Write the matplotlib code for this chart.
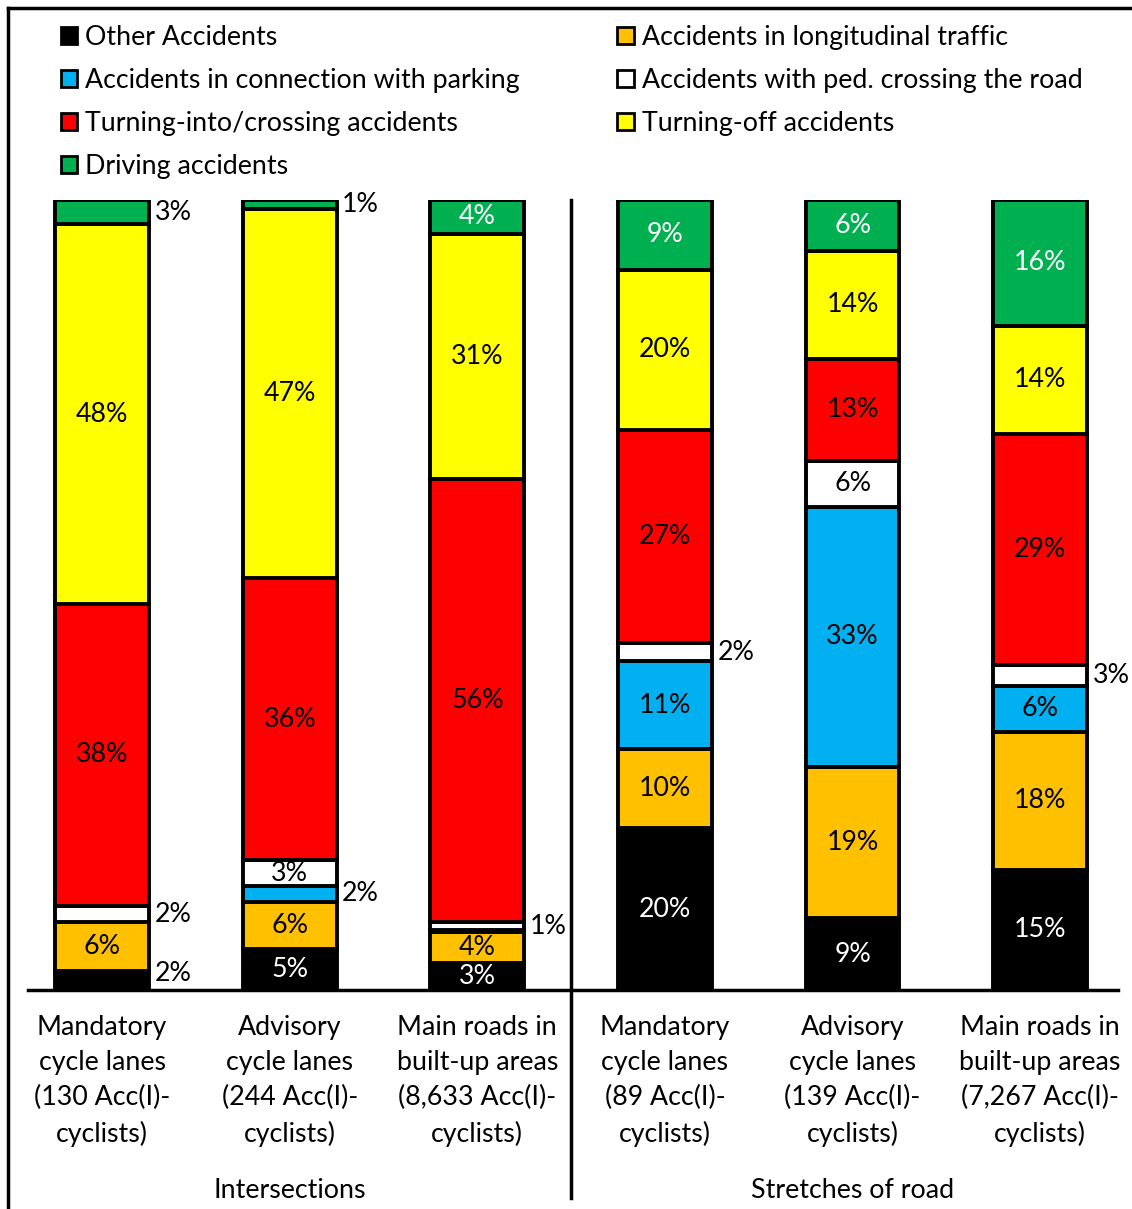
import matplotlib
matplotlib.use("Agg")
import matplotlib.pyplot as plt
from matplotlib.patches import Patch
from matplotlib.lines import Line2D
import numpy as np

plt.rcParams['font.family'] = ['Lato', 'DejaVu Sans']

categories = [
    "Mandatory\ncycle lanes\n(130 Acc(I)-\ncyclists)",
    "Advisory\ncycle lanes\n(244 Acc(I)-\ncyclists)",
    "Main roads in\nbuilt-up areas\n(8,633 Acc(I)-\ncyclists)",
    "Mandatory\ncycle lanes\n(89 Acc(I)-\ncyclists)",
    "Advisory\ncycle lanes\n(139 Acc(I)-\ncyclists)",
    "Main roads in\nbuilt-up areas\n(7,267 Acc(I)-\ncyclists)",
]
groups = ["Intersections", "Stretches of road"]

series_names = [
    "Other Accidents",
    "Accidents in longitudinal traffic",
    "Accidents in connection with parking",
    "Accidents with ped. crossing the road",
    "Turning-into/crossing accidents",
    "Turning-off accidents",
    "Driving accidents",
]
other        = [2.4, 5.2, 3.4, 20.5, 9.1, 15.2]
longitudinal = [6.2, 6.0, 3.9, 10.0, 19.1, 17.5]
parking      = [0.0, 2.0, 0.3, 11.1, 33.0, 5.8]
pedestrian   = [2.0, 3.2, 1.0, 2.3, 5.8, 2.7]
turning_into = [38.3, 35.8, 56.1, 27.0, 12.9, 29.2]
turning_off  = [48.0, 46.6, 31.0, 20.3, 13.7, 13.7]
driving      = [3.1, 1.2, 4.3, 8.8, 6.4, 15.9]
series = [other, longitudinal, parking, pedestrian, turning_into, turning_off, driving]

colors = ["#000000", "#FFC000", "#00B0F0", "#FFFFFF", "#FF0000", "#FFFF00", "#00B050"]
text_colors = ["white", "black", "black", "black", "black", "black", "white"]

W, H = 1132, 1209
fig = plt.figure(figsize=(W / 100, H / 100), dpi=100)
ax = fig.add_axes([28 / W, 1 - 990 / H, (1118 - 28) / W, (990 - 200) / H])

x = np.arange(len(categories))
bw = 0.5
bottom = np.zeros(len(categories))
fs = 19.3
for s, (vals, col, tcol) in enumerate(zip(series, colors, text_colors)):
    vals = np.array(vals, dtype=float)
    ax.bar(x, vals, bw, bottom=bottom, color=col, edgecolor="black", linewidth=2.8, zorder=2)
    for i, v in enumerate(vals):
        if v < 0.5:
            continue
        yc = bottom[i] + v / 2
        lab = f"{v:.0f}%"
        if v < 3.15:
            ax.text(x[i] + bw / 2 + 0.03, max(yc, 2.1), lab, ha="left", va="center", fontsize=fs, color="black")
        else:
            ax.text(x[i], yc, lab, ha="center", va="center", fontsize=fs, color=tcol)
    bottom += vals

ax.set_xlim(-0.395, 5.415)
ax.set_ylim(0, 100)
for sp in ["top", "right", "left"]:
    ax.spines[sp].set_visible(False)
ax.spines["bottom"].set_linewidth(2.5)
ax.set_yticks([])
ax.set_xticks(x)
ax.set_xticklabels(categories, fontsize=fs, linespacing=1.5)
ax.tick_params(axis="x", length=0, pad=18)

# group labels
ax.text(1, -25.4, groups[0], ha="center", va="center", fontsize=fs, clip_on=False)
ax.text(4, -25.4, groups[1], ha="center", va="center", fontsize=fs, clip_on=False)

# separator
ax.add_line(Line2D([2.5, 2.5], [100, -26.3], color="black", linewidth=2.5, clip_on=False))

# figure border (top, left)
fig.add_artist(Line2D([8 / W, 1.0], [1 - 8 / H, 1 - 8 / H], color="black", linewidth=2.5, transform=fig.transFigure))
fig.add_artist(Line2D([8 / W, 8 / W], [1 - 8 / H, 0.0], color="black", linewidth=2.5, transform=fig.transFigure))

# legend
handles = [Patch(facecolor=c, edgecolor="black", linewidth=2.0, label=n) for n, c in zip(series_names, colors)]
order = [0, 2, 4, 6, 1, 3, 5]
leg = fig.legend([handles[i] for i in order], [series_names[i] for i in order],
                 ncol=2, loc="upper left", bbox_to_anchor=(50 / W, 1 - 14 / H),
                 frameon=False, fontsize=fs, handlelength=0.6, handleheight=0.6,
                 handletextpad=0.3, columnspacing=3.65, labelspacing=0.68, borderaxespad=0)

fig.savefig("out.png", dpi=100)
